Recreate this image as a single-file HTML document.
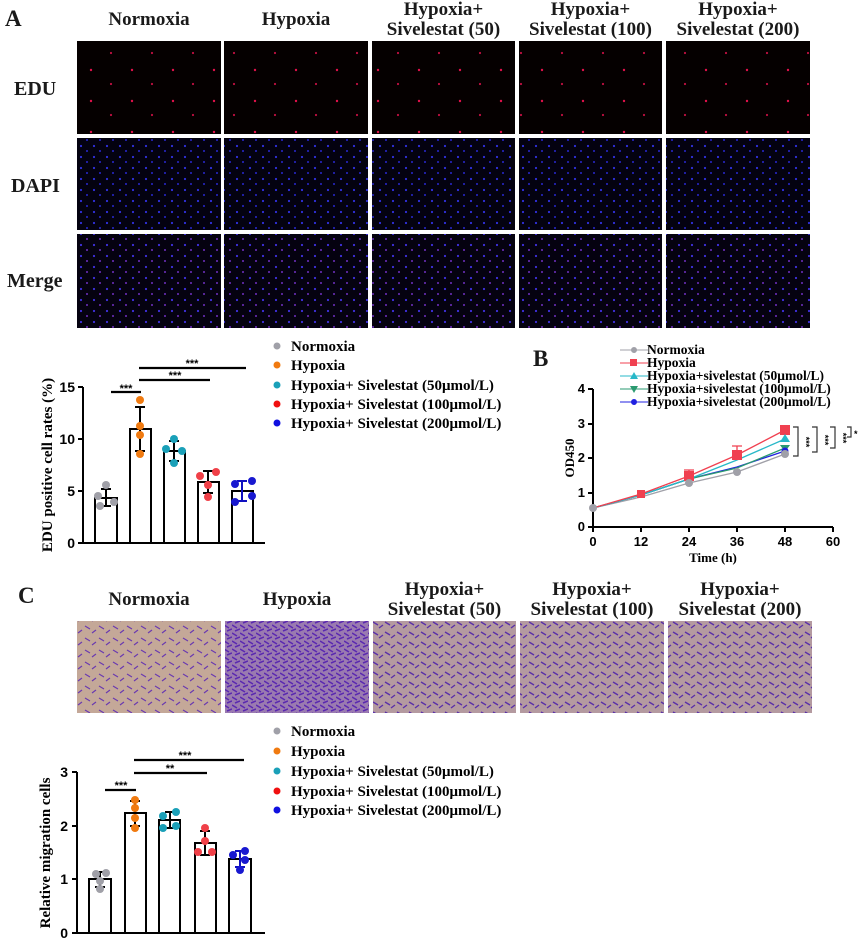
<!DOCTYPE html>
<html><head><meta charset="utf-8"><style>
body{margin:0;background:#fff;width:865px;height:947px;position:relative;overflow:hidden;font-family:"Liberation Serif",serif;font-weight:bold;color:#1a1a1a}
.t{position:absolute;text-align:center;font-size:19px;line-height:20px;white-space:nowrap}
.lab{position:absolute;font-size:23px}
.row{position:absolute;font-size:20px}
svg{position:absolute;left:0;top:0}
</style></head><body>
<div class="lab" style="left:5px;top:6px">A</div>
<div class="t" style="left:77px;width:144px;top:10px">Normoxia</div>
<div class="t" style="left:224px;width:144px;top:10px">Hypoxia</div>
<div class="t" style="left:372px;width:143px;top:0px">Hypoxia+<br>Sivelestat (50)</div>
<div class="t" style="left:519px;width:143px;top:0px">Hypoxia+<br>Sivelestat (100)</div>
<div class="t" style="left:666px;width:144px;top:0px">Hypoxia+<br>Sivelestat (200)</div>
<div class="row" style="left:14px;top:78px">EDU</div>
<div class="row" style="left:11px;top:175px">DAPI</div>
<div class="row" style="left:7px;top:270px">Merge</div>
<div class="lab" style="left:18px;top:583px">C</div>
<div class="t" style="left:77px;width:144px;top:590px">Normoxia</div>
<div class="t" style="left:225px;width:144px;top:590px">Hypoxia</div>
<div class="t" style="left:373px;width:143px;top:580px">Hypoxia+<br>Sivelestat (50)</div>
<div class="t" style="left:520px;width:144px;top:580px">Hypoxia+<br>Sivelestat (100)</div>
<div class="t" style="left:668px;width:144px;top:580px">Hypoxia+<br>Sivelestat (200)</div>
<div class="lab" style="left:533px;top:346px">B</div>
<svg width="865" height="947" font-family="Liberation Serif, serif" font-weight="bold">
<defs>
<pattern id="red" width="41" height="31" patternUnits="userSpaceOnUse"><rect width="41" height="31" fill="#050000"/><circle cx="9" cy="8" r="1.2" fill="#e0104a"/><circle cx="29" cy="22" r="1.1" fill="#c01040"/></pattern>
<pattern id="blue" width="13" height="11" patternUnits="userSpaceOnUse"><rect width="13" height="11" fill="#040210"/><circle cx="3" cy="3" r="1.1" fill="#3030e0"/><circle cx="9" cy="8" r="1" fill="#2828d0"/></pattern>
<pattern id="merge" width="13" height="11" patternUnits="userSpaceOnUse"><rect width="13" height="11" fill="#050210"/><circle cx="3" cy="3" r="1.1" fill="#4030e0"/><circle cx="9" cy="8" r="1" fill="#7030c0"/></pattern>
<pattern id="tan" width="14" height="12" patternUnits="userSpaceOnUse"><rect width="14" height="12" fill="#c4a898"/><path d="M1 2 L6 5 M8 9 L12 6" stroke="#6a3ab0" stroke-width="1.2"/></pattern>
<pattern id="tan3" width="12" height="10" patternUnits="userSpaceOnUse"><rect width="12" height="10" fill="#b49aa0"/><path d="M1 2 L6 5 M7 8 L11 5" stroke="#5a30a8" stroke-width="1.4"/></pattern>
<pattern id="tan2" width="8" height="8" patternUnits="userSpaceOnUse"><rect width="8" height="8" fill="#9a7ab0"/><path d="M0 1 L5 4 M3 7 L8 5" stroke="#5a28b0" stroke-width="1.5"/></pattern>
</defs>
<g>
<rect x="77" y="41" width="144" height="93" fill="url(#red)"/><rect x="224" y="41" width="144" height="93" fill="url(#red)"/><rect x="372" y="41" width="143" height="93" fill="url(#red)"/><rect x="519" y="41" width="143" height="93" fill="url(#red)"/><rect x="666" y="41" width="144" height="93" fill="url(#red)"/>
<rect x="77" y="138" width="144" height="92" fill="url(#blue)"/><rect x="224" y="138" width="144" height="92" fill="url(#blue)"/><rect x="372" y="138" width="143" height="92" fill="url(#blue)"/><rect x="519" y="138" width="143" height="92" fill="url(#blue)"/><rect x="666" y="138" width="144" height="92" fill="url(#blue)"/>
<rect x="77" y="234" width="144" height="94" fill="url(#merge)"/><rect x="224" y="234" width="144" height="94" fill="url(#merge)"/><rect x="372" y="234" width="143" height="94" fill="url(#merge)"/><rect x="519" y="234" width="143" height="94" fill="url(#merge)"/><rect x="666" y="234" width="144" height="94" fill="url(#merge)"/>
<rect x="77" y="621" width="144" height="92" fill="url(#tan)"/><rect x="225" y="621" width="144" height="92" fill="url(#tan2)"/><rect x="373" y="621" width="143" height="92" fill="url(#tan3)"/><rect x="520" y="621" width="144" height="92" fill="url(#tan3)"/><rect x="668" y="621" width="144" height="92" fill="url(#tan3)"/>
</g>
<!-- Chart A -->
<g stroke="#000" stroke-width="2" fill="none">
<path d="M83 387 V543 H265"/>
<path d="M78 387 H83 M78 439 H83 M78 491 H83 M78 543 H83"/>
<rect x="95" y="498" width="22" height="45" fill="#fff"/>
<rect x="130" y="429" width="21" height="114" fill="#fff"/>
<rect x="164" y="451" width="21" height="92" fill="#fff"/>
<rect x="198" y="482" width="21" height="61" fill="#fff"/>
<rect x="232" y="491" width="21" height="52" fill="#fff"/>
<path d="M111 392 H141 M139 368 H246 M139 380 H210" stroke-width="2.2"/>
<path d="M106 489 V506 M101 489 H111 M101 506 H111"/>
<path d="M140 407 V451 M135 407 H145 M135 451 H145"/>
<path d="M174 441 V461 M169 441 H179 M169 461 H179"/>
<path d="M208 471 V493 M203 471 H213 M203 493 H213"/>
<path d="M242 481 V501 M237 481 H247 M237 501 H247" stroke="#1010c0"/>
</g>
<g font-size="14" font-family="Liberation Sans, sans-serif" text-anchor="end"><text x="75" y="392">15</text><text x="75" y="444">10</text><text x="75" y="496">5</text><text x="75" y="548">0</text></g>
<g font-size="11" text-anchor="middle" font-family="Liberation Sans, sans-serif"><text x="126" y="392">***</text><text x="192" y="367">***</text><text x="175" y="379">***</text></g>
<text transform="translate(52,465) rotate(-90)" font-size="15" text-anchor="middle">EDU positive cell rates (%)</text>
<g fill="#a0a0a8"><circle cx="106" cy="485" r="4"/><circle cx="98" cy="496" r="4"/><circle cx="114" cy="502" r="4"/><circle cx="100" cy="506" r="4"/></g>
<g fill="#f07a10"><circle cx="140" cy="400" r="4"/><circle cx="140" cy="426" r="4"/><circle cx="140" cy="435" r="4"/><circle cx="140" cy="454" r="4"/></g>
<g fill="#1aa0b8"><circle cx="174" cy="439" r="4"/><circle cx="166" cy="449" r="4"/><circle cx="182" cy="451" r="4"/><circle cx="174" cy="463" r="4"/></g>
<g fill="#f04048"><circle cx="200" cy="476" r="4"/><circle cx="216" cy="472" r="4"/><circle cx="208" cy="485" r="4"/><circle cx="208" cy="497" r="4"/></g>
<g fill="#1818d0"><circle cx="235" cy="484" r="4"/><circle cx="252" cy="481" r="4"/><circle cx="252" cy="496" r="4"/><circle cx="235" cy="502" r="4"/></g>
<g font-size="15"><circle cx="277" cy="346" r="3.5" fill="#a0a0a8"/><text x="291" y="351">Normoxia</text>
<circle cx="277" cy="365" r="3.5" fill="#f07a10"/><text x="291" y="370">Hypoxia</text>
<circle cx="277" cy="385" r="3.5" fill="#1aa0b8"/><text x="291" y="390">Hypoxia+ Sivelestat (50μmol/L)</text>
<circle cx="277" cy="404" r="3.5" fill="#f01010"/><text x="291" y="409">Hypoxia+ Sivelestat (100μmol/L)</text>
<circle cx="277" cy="423" r="3.5" fill="#1010e0"/><text x="291" y="428">Hypoxia+ Sivelestat (200μmol/L)</text></g>
<!-- Chart C -->
<g stroke="#000" stroke-width="2" fill="none">
<path d="M77 772 V933 H265"/>
<path d="M72 772 H77 M72 826 H77 M72 879 H77 M72 933 H77"/>
<rect x="89" y="879" width="22" height="54" fill="#fff"/>
<rect x="125" y="813" width="21" height="120" fill="#fff"/>
<rect x="159" y="820" width="21" height="113" fill="#fff"/>
<rect x="195" y="843" width="21" height="90" fill="#fff"/>
<rect x="229" y="859" width="22" height="74" fill="#fff"/>
<path d="M105 790 H136 M134 760 H244 M134 773 H207" stroke-width="2.2"/>
<path d="M100 872 V887 M95 872 H105 M95 887 H105"/>
<path d="M135 801 V826 M130 801 H140 M130 826 H140"/>
<path d="M170 812 V828 M165 812 H175 M165 828 H175"/>
<path d="M205 831 V855 M200 831 H210 M200 855 H210"/>
<path d="M240 851 V867 M235 851 H245 M235 867 H245" stroke="#1010c0"/>
</g>
<g font-size="14" font-family="Liberation Sans, sans-serif" text-anchor="end"><text x="68" y="777">3</text><text x="68" y="831">2</text><text x="68" y="884">1</text><text x="68" y="938">0</text></g>
<g font-size="11" text-anchor="middle" font-family="Liberation Sans, sans-serif"><text x="121" y="789">***</text><text x="185" y="759">***</text><text x="170" y="772">**</text></g>
<text transform="translate(50,853) rotate(-90)" font-size="15" text-anchor="middle">Relative migration cells</text>
<g fill="#a0a0a8"><circle cx="96" cy="874" r="4"/><circle cx="106" cy="873" r="4"/><circle cx="100" cy="881" r="4"/><circle cx="100" cy="889" r="4"/></g>
<g fill="#f07a10"><circle cx="135" cy="800" r="4"/><circle cx="135" cy="808" r="4"/><circle cx="135" cy="818" r="4"/><circle cx="135" cy="828" r="4"/></g>
<g fill="#1aa0b8"><circle cx="163" cy="816" r="4"/><circle cx="176" cy="812" r="4"/><circle cx="176" cy="826" r="4"/><circle cx="163" cy="828" r="4"/></g>
<g fill="#f04048"><circle cx="205" cy="828" r="4"/><circle cx="205" cy="841" r="4"/><circle cx="198" cy="852" r="4"/><circle cx="212" cy="852" r="4"/></g>
<g fill="#1818d0"><circle cx="233" cy="855" r="4"/><circle cx="245" cy="851" r="4"/><circle cx="245" cy="860" r="4"/><circle cx="240" cy="870" r="4"/></g>
<g font-size="15"><circle cx="277" cy="731" r="3.5" fill="#a0a0a8"/><text x="291" y="736">Normoxia</text>
<circle cx="277" cy="751" r="3.5" fill="#f07a10"/><text x="291" y="756">Hypoxia</text>
<circle cx="277" cy="771" r="3.5" fill="#1aa0b8"/><text x="291" y="776">Hypoxia+ Sivelestat (50μmol/L)</text>
<circle cx="277" cy="791" r="3.5" fill="#f01010"/><text x="291" y="796">Hypoxia+ Sivelestat (100μmol/L)</text>
<circle cx="277" cy="810" r="3.5" fill="#1010e0"/><text x="291" y="815">Hypoxia+ Sivelestat (200μmol/L)</text></g>
<!-- Chart B -->
<g stroke="#000" stroke-width="2" fill="none">
<path d="M593 389 V527 H833"/>
<path d="M588 389 H593 M588 424 H593 M588 458 H593 M588 493 H593 M588 527 H593"/>
<path d="M593 527 V532 M641 527 V532 M689 527 V532 M737 527 V532 M785 527 V532 M833 527 V532"/>
</g>
<g font-size="13" font-family="Liberation Sans, sans-serif" text-anchor="end"><text x="585" y="393">4</text><text x="585" y="428">3</text><text x="585" y="462">2</text><text x="585" y="497">1</text><text x="585" y="531">0</text></g>
<g font-size="13" font-family="Liberation Sans, sans-serif" text-anchor="middle"><text x="593" y="546">0</text><text x="641" y="546">12</text><text x="689" y="546">24</text><text x="737" y="546">36</text><text x="785" y="546">48</text><text x="833" y="546">60</text></g>
<text x="713" y="562" font-size="13" text-anchor="middle">Time (h)</text>
<text transform="translate(574,458) rotate(-90)" font-size="13" text-anchor="middle">OD450</text>
<g fill="none" stroke-width="1.3">
<polyline points="593,508 641,497 689,483 737,472 785,454" stroke="#a0a0a8"/>
<polyline points="593,508 641,495 689,479 737,467 785,451" stroke="#2020e0"/>
<polyline points="593,508 641,495 689,479 737,468 785,448" stroke="#2a9a70"/>
<polyline points="593,508 641,495 689,479 737,460 785,439" stroke="#28b8c8"/>
<polyline points="593,508 641,494 689,476 737,455 785,430" stroke="#f04050"/>
<path d="M689 476 V470 M684 470 H694 M737 455 V446 M732 446 H742 M785 430 V426 M780 426 H790" stroke="#f04050"/>
</g>
<g fill="#f04050"><rect x="780" y="425" width="10" height="10"/><rect x="732" y="450" width="10" height="10"/><rect x="684" y="471" width="10" height="10"/><rect x="637" y="490" width="8" height="8"/></g>
<polygon points="785,434 790,442 780,442" fill="#28b8c8"/>
<polygon points="780,445 790,445 785,452" fill="#2a9a70"/>
<circle cx="785" cy="451" r="3.5" fill="#2020e0"/>
<circle cx="785" cy="454" r="4" fill="#a0a0a8"/>
<circle cx="737" cy="472" r="4" fill="#a0a0a8"/>
<circle cx="689" cy="483" r="4" fill="#a0a0a8"/>
<circle cx="593" cy="508" r="4" fill="#a0a0a8"/>
<g stroke="#333" fill="none" stroke-width="1.2"><path d="M793 427 H798 V456 H793 M812 427 H817 V452 H812 M830 427 H835 V448 H830 M847 427 H851 V437 H847"/></g>
<g font-size="9" font-family="Liberation Sans, sans-serif"><text transform="translate(803,442) rotate(90)" text-anchor="middle">***</text><text transform="translate(822,440) rotate(90)" text-anchor="middle">***</text><text transform="translate(840,438) rotate(90)" text-anchor="middle">***</text><text x="854" y="437">*</text></g>
<g font-size="13.5">
<path d="M620 350 H648" stroke="#a0a0a8"/><circle cx="634" cy="350" r="3" fill="#a0a0a8"/><text x="647" y="354">Normoxia</text>
<path d="M620 363 H648" stroke="#f04050"/><rect x="630" y="359" width="7" height="7" fill="#f04050"/><text x="647" y="367">Hypoxia</text>
<path d="M620 376 H648" stroke="#28b8c8"/><polygon points="634,372 638,379 630,379" fill="#28b8c8"/><text x="647" y="380">Hypoxia+sivelestat (50μmol/L)</text>
<path d="M620 389 H648" stroke="#2a9a70"/><polygon points="630,386 638,386 634,393" fill="#2a9a70"/><text x="647" y="393">Hypoxia+sivelestat (100μmol/L)</text>
<path d="M620 402 H648" stroke="#2020e0"/><circle cx="634" cy="402" r="3" fill="#2020e0"/><text x="647" y="406">Hypoxia+sivelestat (200μmol/L)</text>
</g>
</svg>
</body></html>
